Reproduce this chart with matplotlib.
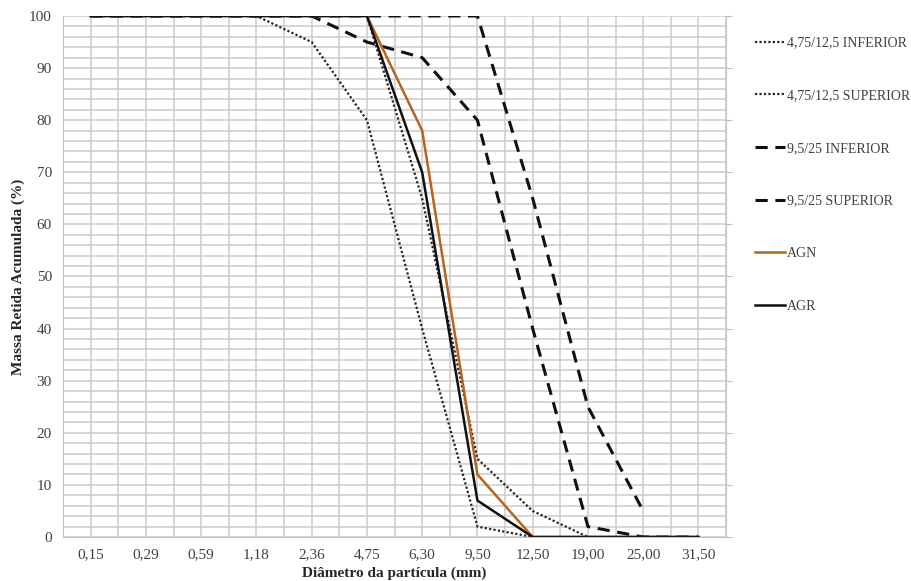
import numpy as np
import matplotlib.pyplot as plt

plt.rcParams['font.family'] = ['Liberation Serif', 'DejaVu Serif']

# sieve openings (category axis)
categories = ['0,15', '0,29', '0,59', '1,18', '2,36', '4,75',
              '6,30', '9,50', '12,50', '19,00', '25,00', '31,50']

nan = np.nan
# accumulated retained mass (%)
lim_475_inf = [100, 100, 100, 100, 95, 80, 40, 2, 0, 0, 0, 0]
lim_475_sup = [100, 100, 100, 100, 100, 100, 65, 15, 5, 0, 0, 0]
lim_95_inf = [100, 100, 100, 100, 100, 95, 92, 80, 40, 2, 0, 0]
lim_95_sup = [100, 100, 100, 100, 100, 100, 100, 100, 65, 25, 5, nan]
agn = [100, 100, 100, 100, 100, 100, 78, 12, 0, 0, 0, 0]
agr = [100, 100, 100, 100, 100, 100, 70, 7, 0, 0, 0, 0]

x = np.arange(len(categories))

fig = plt.figure(figsize=(9.11, 5.81), dpi=100)
ax = fig.add_axes([0.0692, 0.0757, 0.7278, 0.8968])

ax.plot(x, lim_475_inf, color='#262626', lw=1.6, ls=(0, (1, 1)), label='4,75/12,5 INFERIOR')
ax.plot(x, lim_475_sup, color='#262626', lw=1.6, ls=(0, (1, 1)), label='4,75/12,5 SUPERIOR')
ax.plot(x, lim_95_inf, color='#111111', lw=2.2, ls=(0, (4, 2.5)), label='9,5/25 INFERIOR')
ax.plot(x, lim_95_sup, color='#111111', lw=2.2, ls=(0, (4, 2.5)), label='9,5/25 SUPERIOR')
ax.plot(x, agn, color='#b5651d', lw=1.8, label='AGN')
ax.plot(x, agr, color='#111111', lw=1.8, label='AGR')

ax.set_xlim(-0.5, len(categories) - 0.5)
ax.set_ylim(0, 100)
ax.set_xticks(x)
ax.set_xticklabels(categories)
ax.set_xticks(np.arange(-0.5, len(categories), 1.0), minor=True)
ax.set_yticks(np.arange(0, 101, 10))
ax.set_yticks(np.arange(0, 101, 2), minor=True)

ax.grid(True, which='both', color='#cccccc', lw=1.1)
ax.set_axisbelow(True)
ax.tick_params(axis='x', which='both', length=0, labelsize=11, colors='#404040', pad=8)
ax.tick_params(axis='y', which='minor', length=0)
ax.tick_params(axis='y', which='major', left=False, right=True, length=4, pad=4,
               color='#bfbfbf', labelsize=11, labelcolor='#404040')
for s in ax.spines.values():
    s.set_color('#c4c4c4')
ax.spines['top'].set_visible(False)

ax.set_xlabel('Diâmetro da partícula (mm)', fontsize=11, fontweight='bold', color='#262626', labelpad=4)
ax.set_ylabel('Massa Retida Acumulada (%)', fontsize=11, fontweight='bold', color='#262626', labelpad=3)

leg = ax.legend(loc='upper left', bbox_to_anchor=(1.035, 0.971), frameon=False,
                fontsize=10, labelspacing=2.85, handlelength=2.2, handletextpad=0.1,
                borderaxespad=0)
for t in leg.get_texts():
    t.set_color('#404040')

fig.savefig('out.png', dpi=100)
